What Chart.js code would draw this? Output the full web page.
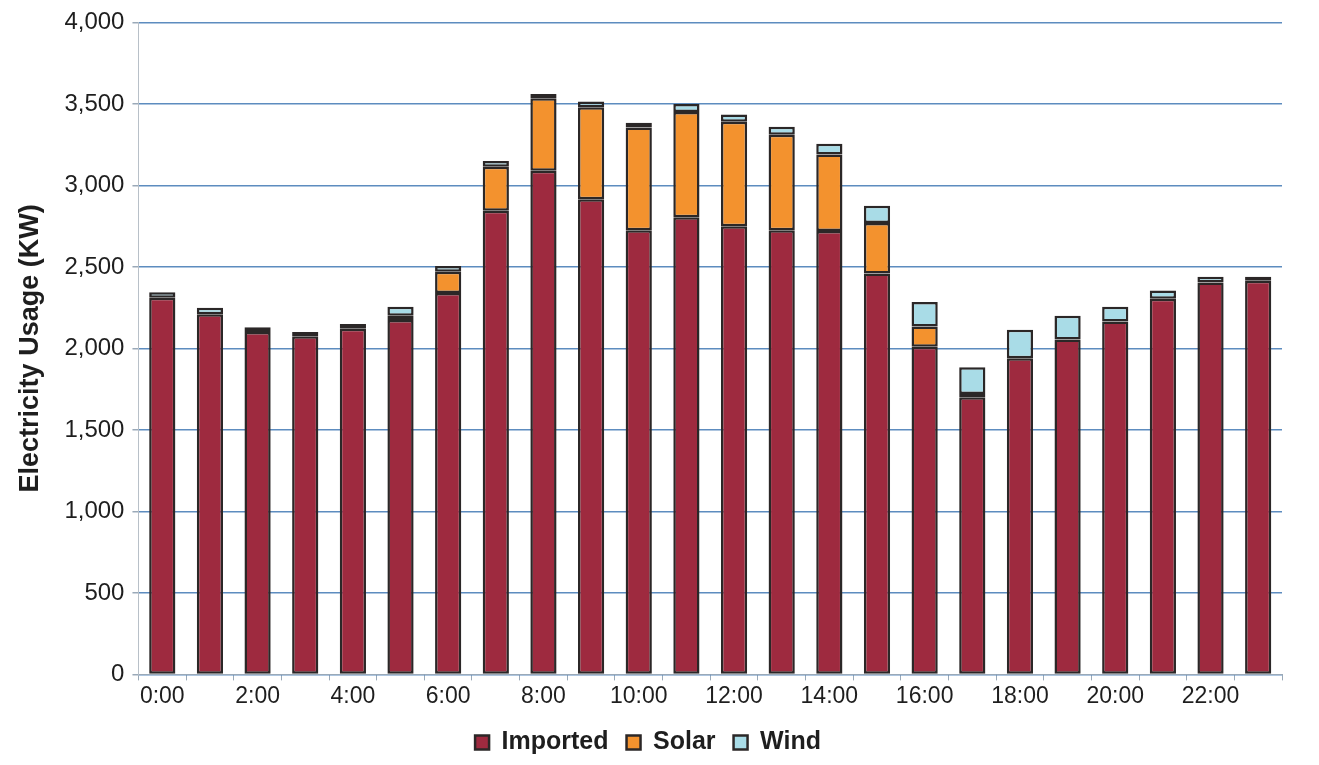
<!DOCTYPE html>
<html>
<head>
<meta charset="utf-8">
<script src="https://cdn.jsdelivr.net/npm/chart.js@4"></script>
<style>
    body { margin: 0; background: #ffffff; }
    #wrap { width: 1319px; height: 765px; }
</style>
</head>
<body>
<div id="wrap"><canvas id="usage" width="1319" height="765"></canvas></div>
<script>
const hours = [
    '0:00', '1:00', '2:00', '3:00', '4:00', '5:00', '6:00', '7:00',
    '8:00', '9:00', '10:00', '11:00', '12:00', '13:00', '14:00', '15:00',
    '16:00', '17:00', '18:00', '19:00', '20:00', '21:00', '22:00', '23:00'
];
const imported = [2310, 2210, 2100, 2075, 2120, 2175, 2340, 2845, 3090, 2915, 2725, 2805,
                  2750, 2725, 2720, 2460, 2010, 1700, 1940, 2055, 2165, 2305, 2405, 2415];
const solar = [0, 0, 0, 0, 0, 25, 130, 270, 445, 565, 630, 645,
               640, 585, 470, 310, 125, 20, 0, 0, 0, 0, 0, 0];
const wind = [35, 40, 30, 25, 30, 55, 35, 35, 25, 35, 30, 50,
              45, 50, 65, 105, 150, 165, 175, 145, 90, 50, 35, 25];
const yTicks = [0, 500, 1000, 1500, 2000, 2500, 3000, 3500, 4000];

const fontFamily = '"Liberation Sans", Arial, sans-serif';

const data = {
    labels: hours,
    datasets: [{
        label: 'Imported',
        data: imported,
        backgroundColor: '#9e2a3f',
        borderColor: '#2b2727',
        borderWidth: 2.5
    }, {
        label: 'Solar',
        data: solar,
        backgroundColor: '#f3922e',
        borderColor: '#2b2727',
        borderWidth: 2.5
    }, {
        label: 'Wind',
        data: wind,
        backgroundColor: '#a9dce7',
        borderColor: '#2b2727',
        borderWidth: 2.5
    }]
};

const config = {
    type: 'bar',
    data: data,
    options: {
        responsive: false,
        animation: false,
        layout: {
            padding: { left: 14, right: 37, top: 3, bottom: 0 }
        },
        datasets: {
            bar: {
                categoryPercentage: 1,
                barPercentage: 0.55,
                borderSkipped: false
            }
        },
        plugins: {
            legend: {
                position: 'bottom',
                labels: {
                    color: '#1e1e1e',
                    boxWidth: 14,
                    boxHeight: 14,
                    padding: 18,
                    font: { family: fontFamily, size: 25, weight: 'bold' }
                }
            },
            tooltip: { enabled: false }
        },
        scales: {
            x: {
                stacked: true,
                grid: {
                    offset: true,
                    drawOnChartArea: false,
                    drawTicks: true,
                    tickLength: 6,
                    color: '#9aa9b8'
                },
                border: { color: '#9aa9b8', width: 1 },
                ticks: {
                    autoSkip: false,
                    maxRotation: 0,
                    color: '#1e1e1e',
                    font: { family: fontFamily, size: 23 },
                    padding: 2,
                    callback: function (value, index) {
                        return index % 2 === 0 ? hours[index] : '';
                    }
                }
            },
            y: {
                stacked: true,
                min: 0,
                max: 4000,
                afterBuildTicks: function (axis) {
                    axis.ticks = yTicks.map(function (v) { return { value: v }; });
                },
                grid: {
                    color: '#5d8cbf',
                    lineWidth: 1.5,
                    tickLength: 6,
                    tickColor: '#9aa9b8'
                },
                border: { color: '#b8c0c8', width: 1 },
                title: {
                    display: true,
                    text: 'Electricity Usage (KW)',
                    color: '#1e1e1e',
                    font: { family: fontFamily, size: 27, weight: 'bold' },
                    padding: { top: 0, bottom: 10 }
                },
                ticks: {
                    color: '#1e1e1e',
                    font: { family: fontFamily, size: 24 },
                    padding: 8,
                    callback: function (value) {
                        return value.toLocaleString('en-US');
                    }
                }
            }
        }
    }
};

var usageChart = new Chart(
    document.getElementById('usage'),
    config
);
</script>
</body>
</html>
